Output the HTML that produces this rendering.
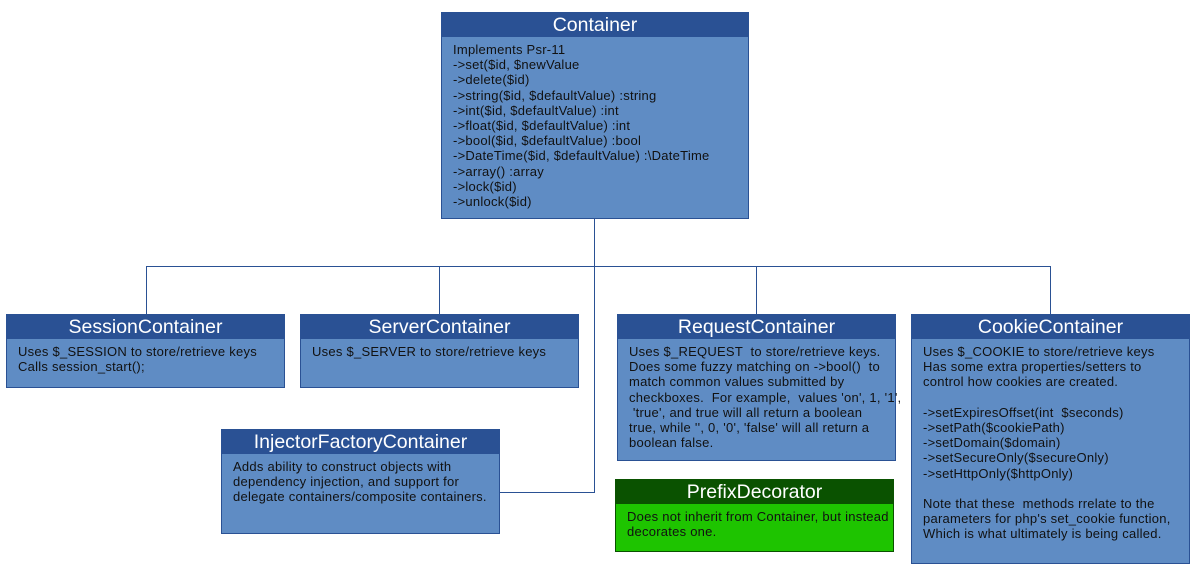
<!DOCTYPE html>
<html><head><meta charset="utf-8"><style>
html,body{margin:0;padding:0;background:#fff;width:1195px;height:569px;overflow:hidden;position:relative;font-family:"Liberation Sans","DejaVu Sans",sans-serif}
.b{position:absolute;background:#5f8cc4;border:1px solid #2a5194;box-sizing:border-box}
.h{background:#2a5194;color:#fff;text-align:center;font-size:19.5px;height:24px;line-height:25px}
.t{color:#111;font-size:13px;letter-spacing:0.25px;line-height:15.2px;padding:5px 0 0 11px;white-space:pre}
.g{background:#1ec400;border-color:#0a5200}
.g .h{background:#0a5200}
.l{position:absolute;background:#2a5194}
</style></head><body>
<div class="l" style="left:594px;top:218px;width:1px;height:275px"></div>
<div class="l" style="left:146px;top:266px;width:905px;height:1px"></div>
<div class="l" style="left:146px;top:266px;width:1px;height:48px"></div>
<div class="l" style="left:439px;top:266px;width:1px;height:48px"></div>
<div class="l" style="left:756px;top:266px;width:1px;height:48px"></div>
<div class="l" style="left:1050px;top:266px;width:1px;height:48px"></div>
<div class="l" style="left:499px;top:492px;width:96px;height:1px"></div>

<div class="b" style="left:441px;top:12px;width:308px;height:207px"><div class="h">Container</div><div class="t">Implements Psr-11
-&gt;set($id, $newValue
-&gt;delete($id)
-&gt;string($id, $defaultValue) :string
-&gt;int($id, $defaultValue) :int
-&gt;float($id, $defaultValue) :int
-&gt;bool($id, $defaultValue) :bool
-&gt;DateTime($id, $defaultValue) :\DateTime
-&gt;array() :array
-&gt;lock($id)
-&gt;unlock($id)</div></div>

<div class="b" style="left:6px;top:314px;width:279px;height:74px"><div class="h">SessionContainer</div><div class="t">Uses $_SESSION to store/retrieve keys
Calls session_start();</div></div>

<div class="b" style="left:300px;top:314px;width:279px;height:74px"><div class="h">ServerContainer</div><div class="t">Uses $_SERVER to store/retrieve keys</div></div>

<div class="b" style="left:617px;top:314px;width:279px;height:147px"><div class="h">RequestContainer</div><div class="t">Uses $_REQUEST  to store/retrieve keys.
Does some fuzzy matching on -&gt;bool()  to
match common values submitted by
checkboxes.  For example,  values 'on', 1, '1',
 'true', and true will all return a boolean
true, while '', 0, '0', 'false' will all return a
boolean false.</div></div>

<div class="b" style="left:911px;top:314px;width:279px;height:250px"><div class="h">CookieContainer</div><div class="t">Uses $_COOKIE to store/retrieve keys
Has some extra properties/setters to
control how cookies are created.

-&gt;setExpiresOffset(int  $seconds)
-&gt;setPath($cookiePath)
-&gt;setDomain($domain)
-&gt;setSecureOnly($secureOnly)
-&gt;setHttpOnly($httpOnly)

Note that these  methods rrelate to the
parameters for php's set_cookie function,
Which is what ultimately is being called.</div></div>

<div class="b" style="left:221px;top:429px;width:279px;height:105px"><div class="h">InjectorFactoryContainer</div><div class="t">Adds ability to construct objects with
dependency injection, and support for
delegate containers/composite containers.</div></div>

<div class="b g" style="left:615px;top:479px;width:279px;height:73px"><div class="h">PrefixDecorator</div><div class="t">Does not inherit from Container, but instead
decorates one.</div></div>
</body></html>
